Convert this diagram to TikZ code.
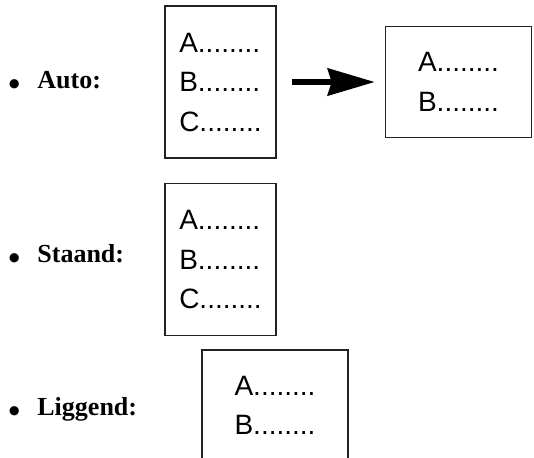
\documentclass[tikz,border=0pt]{standalone}
\usepackage{fontspec}
\setmainfont{Liberation Serif}
\setsansfont{Liberation Sans}
\usetikzlibrary{arrows.meta,positioning}
\definecolor{pgInk}{HTML}{222222}
\newcommand{\pgBullet}{\makebox[14.5pt][l]{\raisebox{-3.5pt}{\fontsize{17}{17}\selectfont\textbullet}}}
\tikzset{
  pageV/.style={draw=pgInk, line width=0.75pt, minimum width=55.5pt, minimum height=76pt, inner sep=0pt, align=left, font=\sffamily\fontsize{14}{19.75}\selectfont},
  pageH/.style={pageV, minimum width=73pt, minimum height=55.5pt},
  lbl/.style={anchor=base west, inner sep=0pt, font=\bfseries\fontsize{13}{15}\selectfont},
  arr/.style={-{Stealth[length=23.5pt, width=13.5pt, inset=2pt]}, line width=2.85pt, draw=black},
}
\begin{document}
\begin{tikzpicture}[x=0.5pt, y=-0.5pt]
  \clip (0,0) rectangle (534,457);
  % labels
  \node[lbl] (auto) at (8,88) {\pgBullet Auto:};
  \node[lbl] (staand) at (8,262) {\pgBullet Staand:};
  \node[lbl] (liggend) at (8,415) {\pgBullet Liggend:};
  % pages
  \node[pageV] (autoV) at (220.5,82) {A........\\B........\\C........};
  \node[pageH, right=54pt of autoV] (autoH) {A........\\B........};
  \node[pageV, below=12pt of autoV] (staandV) {A........\\B........\\C........};
  \node[pageH] (liggendH) at (275,405.5) {A........\\B........};
  % arrow
  \draw[arr, shorten <=7.5pt, shorten >=5pt] (autoV.east) -- (autoH.west);
\end{tikzpicture}
\end{document}
